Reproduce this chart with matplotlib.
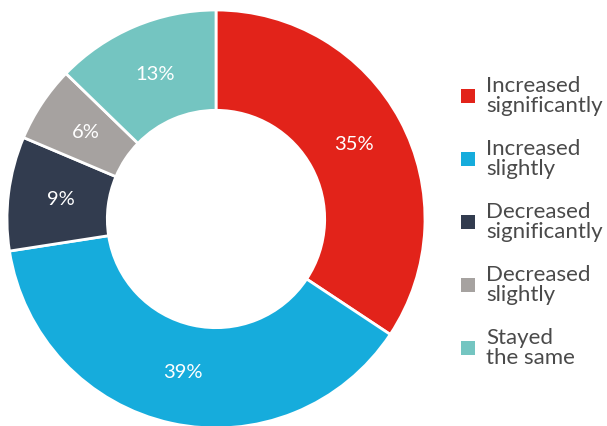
import matplotlib.pyplot as plt
from matplotlib.patches import Rectangle

# share of answers, clockwise from 12 o'clock
labels = ["Increased\nsignificantly", "Increased\nslightly", "Decreased\nsignificantly",
          "Decreased\nslightly", "Stayed\nthe same"]
values = [35, 39, 9, 6, 13]
colors = ["#E2231A", "#16ACDC", "#323C4F", "#A6A2A0", "#74C5C1"]

plt.rcParams["font.family"] = ["Lato", "DejaVu Sans"]

W, H = 607, 426
fig = plt.figure(figsize=(W / 100, H / 100), dpi=100)
# donut centred at (216, 219) px with radius 209 px
ax = fig.add_axes([7 / W, -2 / H, 418 / W, 418 / H])

wedges, texts, autotexts = ax.pie(
    values, colors=colors, startangle=90, counterclock=False, radius=1.0,
    autopct=lambda p: "%d%%" % round(p * sum(values) / 100),
    pctdistance=0.75,
    wedgeprops=dict(width=0.48, edgecolor="white", linewidth=2),
    textprops=dict(color="white", fontsize=14.5),
)
ax.set_xlim(-1, 1)
ax.set_ylim(-1, 1)
ax.set_aspect("equal")

# legend on the right: small square + two-line label per category
for i, (lab, col) in enumerate(zip(labels, colors)):
    yc = 96 + 63 * i
    fig.add_artist(Rectangle((461 / W, 1 - (yc + 7) / H), 14 / W, 14 / H,
                             transform=fig.transFigure, facecolor=col, edgecolor="none"))
    fig.text(486 / W, 1 - yc / H, lab, ha="left", va="center", fontsize=16,
             color="#4A4A4A", linespacing=1.0)

fig.savefig("out.png", dpi=100)
